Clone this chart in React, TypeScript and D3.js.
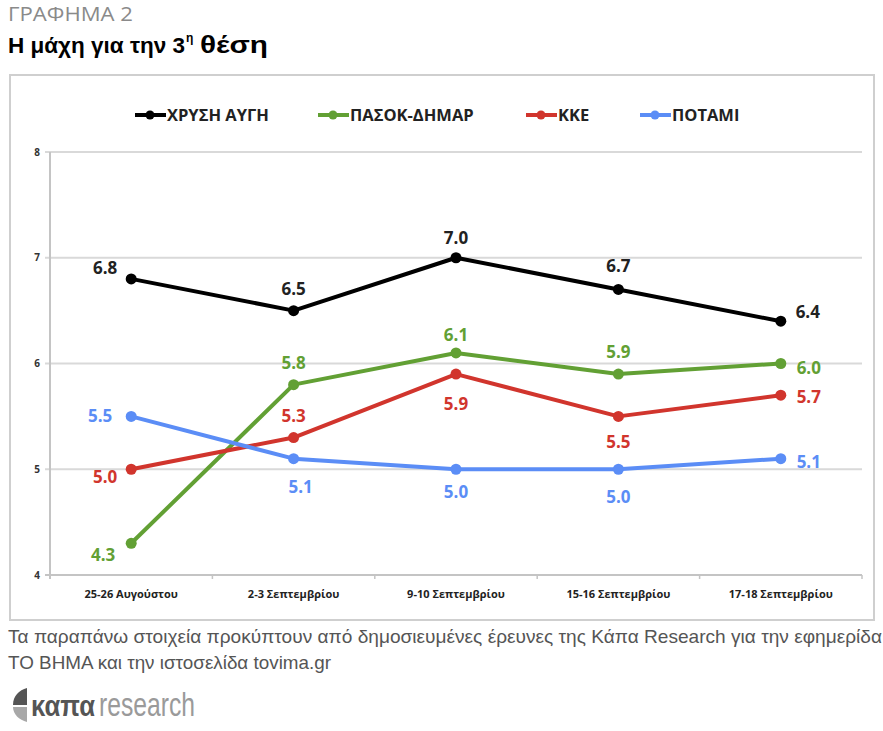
import * as d3 from 'd3'

const categories = ['25-26 Αυγούστου', '2-3 Σεπτεμβρίου', '9-10 Σεπτεμβρίου', '15-16 Σεπτεμβρίου', '17-18 Σεπτεμβρίου']
const chrysiAvgi = [6.8, 6.5, 7.0, 6.7, 6.4]
const pasokDimar = [4.3, 5.8, 6.1, 5.9, 6.0]
const kke = [5.0, 5.3, 5.9, 5.5, 5.7]
const potami = [5.5, 5.1, 5.0, 5.0, 5.1]
const yTicks = [4, 5, 6, 7, 8]

const series = [
  { name: 'ΧΡΥΣΗ ΑΥΓΗ', values: chrysiAvgi, color: '#000000' },
  { name: 'ΠΑΣΟΚ-ΔΗΜΑΡ', values: pasokDimar, color: '#62a034' },
  { name: 'ΚΚΕ', values: kke, color: '#d1352d' },
  { name: 'ΠΟΤΑΜΙ', values: potami, color: '#5b8df6' },
]

// label offset from its point (label centre), one row per series
const labelOffsets = [
  [[-26, -11], [0, -22], [0, -20], [0, -24], [27, -9]],
  [[-28, 12], [0, -22], [0, -18], [0, -22], [28, 4]],
  [[-26, 8], [0, -22], [0, 30], [0, 26], [28, 2]],
  [[-31, 0], [7, 28], [0, 23], [0, 28], [28, 3]],
]

const legendX = [135, 318, 526, 640]

const W = 883
const H = 731
const plot = { left: 50, right: 862, top: 152, bottom: 575 }

export default function App() {
  const x = d3.scalePoint<string>().domain(categories).range([plot.left, plot.right]).padding(0.5)
  const y = d3.scaleLinear().domain([4, 8]).range([plot.bottom, plot.top])
  const step = x.step()
  const line = d3.line<number>()
    .x((_, i) => x(categories[i]) as number)
    .y(d => y(d))

  const font = '"Open Sans", sans-serif'
  const arial = '"Liberation Sans", Arial, sans-serif'

  return (
    <svg width={W} height={H} style={{ position: 'absolute', left: 0, top: 0, background: '#fff' }}>
      <text x={8} y={21} fontFamily={font} fontSize={20} fill="#8a8a8a" textLength={125} lengthAdjust="spacingAndGlyphs">ΓΡΑΦΗΜΑ 2</text>
      <text x={8} y={53} fontFamily={arial} fontWeight="bold" fontSize={22.5} fill="#000">Η μάχη για την 3</text>
      <text x={186} y={42} fontFamily={arial} fontWeight="bold" fontSize={12} fill="#000">η</text>
      <text x={200} y={53} fontFamily={arial} fontWeight="bold" fontSize={24} fill="#000" textLength={68} lengthAdjust="spacingAndGlyphs">θέση</text>

      <rect x={10} y={75} width={864} height={545} fill="none" stroke="#cfcfcf" strokeWidth={2} />

      {/* legend */}
      {series.map((s, i) => (
        <g key={s.name} transform={`translate(${legendX[i]},115)`}>
          <line x1={0} x2={31} y1={0} y2={0} stroke={s.color} strokeWidth={4} />
          <circle cx={15} cy={0} r={4.5} fill={s.color} />
          <text x={32} y={0} dy="0.36em" fontFamily={font} fontWeight="bold" fontSize={16.5} fill="#222">{s.name}</text>
        </g>
      ))}

      {/* grid */}
      {yTicks.map(t => (
        <g key={t}>
          <line x1={plot.left - 5} x2={plot.right} y1={y(t)} y2={y(t)} stroke={t === 4 ? '#c4c4c4' : '#d9d9d9'} strokeWidth={2} />
          <text x={37} y={y(t)} dy="0.35em" textAnchor="middle" fontFamily={font} fontWeight="bold" fontSize={10} fill="#333">{t}</text>
        </g>
      ))}
      <line x1={plot.left} x2={plot.left} y1={plot.top} y2={plot.bottom + 4} stroke="#c4c4c4" strokeWidth={2} />
      {d3.range(categories.length + 1).map(i => (
        <line key={i} x1={plot.left + i * step} x2={plot.left + i * step} y1={plot.bottom} y2={plot.bottom + 4} stroke="#c4c4c4" strokeWidth={1.5} />
      ))}
      {categories.map(c => (
        <text key={c} x={x(c)} y={598} textAnchor="middle" fontFamily={font} fontWeight="bold" fontSize={11} fill="#222">{c}</text>
      ))}

      {/* series */}
      {series.map(s => (
        <path key={s.name} d={line(s.values) ?? ''} fill="none" stroke={s.color} strokeWidth={4} strokeLinejoin="round" />
      ))}
      {series.map(s => (
        <g key={s.name + '-pts'}>
          {s.values.map((v, i) => (
            <circle key={i} cx={x(categories[i])} cy={y(v)} r={5.5} fill={s.color} />
          ))}
        </g>
      ))}
      {series.map((s, si) => (
        <g key={s.name + '-lbl'}>
          {s.values.map((v, i) => (
            <text key={i} x={(x(categories[i]) as number) + labelOffsets[si][i][0]} y={y(v) + labelOffsets[si][i][1]} dy="0.36em" textAnchor="middle" fontFamily={font} fontWeight="bold" fontSize={17} fill={s.color === '#000000' ? '#222' : s.color}>
              {v.toFixed(1)}
            </text>
          ))}
        </g>
      ))}

      {/* footnote */}
      <text x={8} y={643} fontFamily={arial} fontSize={19} fill="#555" textLength={874} lengthAdjust="spacingAndGlyphs">
        Τα παραπάνω στοιχεία προκύπτουν από δημοσιευμένες έρευνες της Κάπα Research για την εφημερίδα
      </text>
      <text x={8} y={669} fontFamily={arial} fontSize={19} fill="#555" textLength={323} lengthAdjust="spacingAndGlyphs">
        ΤΟ ΒΗΜΑ και την ιστοσελίδα tovima.gr
      </text>

      {/* logo */}
      <path d="M27,688 L27,705 L13,705 C13,696 19,690 27,688 Z" fill="#555" />
      <path d="M13,707 L27,707 L27,722 C19,720 13,714 13,707 Z" fill="#a8a8a8" />
      <text x={31} y={716} fontFamily={arial} fontWeight="bold" fontSize={30} fill="#555" textLength={64} lengthAdjust="spacingAndGlyphs">καπα</text>
      <text x={99} y={716} fontFamily={arial} fontSize={33} fill="#9a9a9a" textLength={96} lengthAdjust="spacingAndGlyphs">research</text>
    </svg>
  )
}
